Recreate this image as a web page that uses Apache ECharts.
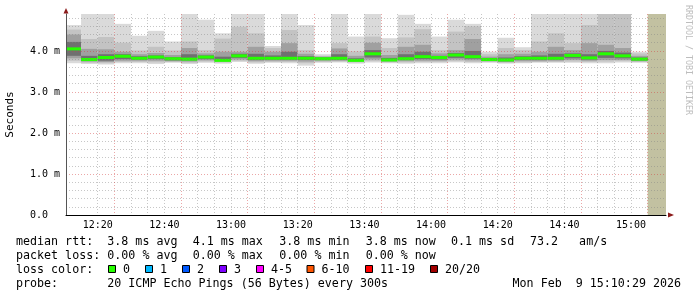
<!DOCTYPE html>
<html><head><meta charset="utf-8">
<script src="https://cdn.jsdelivr.net/npm/echarts@6/dist/echarts.min.js"></script>
<style>html,body{margin:0;padding:0;background:#fff}#c{width:697px;height:297px}</style>
</head><body><div id="c"></div>
<script>
// ---- data, times are end of each 5-minute step ----
const barTimes = ['12:15','12:20','12:25','12:30','12:35','12:40','12:45','12:50','12:55','13:00',
  '13:05','13:10','13:15','13:20','13:25','13:30','13:35','13:40','13:45','13:50',
  '13:55','14:00','14:05','14:10','14:15','14:20','14:25','14:30','14:35','14:40',
  '14:45','14:50','14:55','15:00','15:05'];
// outermost smoke band (min / max ping), ms
const pMin = [3.70,3.68,3.67,3.70,3.70,3.68,3.71,3.68,3.71,3.69,3.73,3.69,3.71,3.70,3.64,3.71,3.72,3.69,3.72,3.70,3.69,3.70,3.70,3.72,3.70,3.71,3.69,3.70,3.71,3.71,3.71,3.70,3.70,3.72,3.71];
const pMax = [4.63,5.00,5.00,4.66,4.37,4.49,4.23,5.00,4.76,4.43,5.00,5.00,4.12,5.00,4.63,3.92,5.00,4.35,5.00,4.31,4.88,4.66,4.35,4.76,4.66,3.98,4.32,4.09,5.00,5.00,5.00,5.00,5.00,5.00,3.98];
// second band
const b2Lo = [3.76,3.71,3.70,3.73,3.73,3.72,3.73,3.71,3.74,3.72,3.76,3.72,3.73,3.73,3.70,3.73,3.74,3.72,3.75,3.72,3.72,3.73,3.73,3.75,3.73,3.73,3.71,3.72,3.73,3.73,3.74,3.73,3.74,3.75,3.73];
const b2Hi = [4.52,4.29,4.34,4.20,4.01,4.10,4.01,4.23,4.02,4.30,4.59,4.43,4.07,4.51,4.02,3.88,4.19,3.99,4.35,4.07,4.33,4.53,4.02,4.47,4.60,3.92,4.07,4.02,4.23,4.43,4.19,4.63,4.95,4.95,3.94];
// third band
const b3Lo = [3.82,3.74,3.73,3.76,3.76,3.76,3.75,3.74,3.77,3.74,3.79,3.75,3.76,3.76,3.74,3.76,3.76,3.74,3.79,3.74,3.75,3.76,3.76,3.79,3.77,3.75,3.73,3.75,3.75,3.76,3.78,3.76,3.78,3.78,3.75];
const b3Hi = [4.40,4.05,4.04,3.98,3.92,3.95,3.90,4.07,3.94,3.98,3.98,4.10,3.98,4.19,3.93,3.86,4.06,3.88,4.20,3.90,4.10,4.15,3.94,4.02,4.29,3.86,3.92,3.93,3.98,4.10,4.02,4.19,4.15,4.07,3.88];
// inner band
const b4Lo = [3.88,3.76,3.76,3.80,3.79,3.80,3.77,3.77,3.80,3.76,3.83,3.78,3.79,3.79,3.78,3.78,3.78,3.76,3.84,3.76,3.78,3.80,3.79,3.83,3.81,3.77,3.75,3.78,3.78,3.79,3.82,3.79,3.83,3.82,3.77];
const b4Hi = [4.22,3.88,3.92,3.92,3.87,3.89,3.85,3.92,3.89,3.86,3.93,3.93,3.89,3.98,3.87,3.84,3.92,3.82,4.02,3.83,3.92,3.98,3.88,3.95,4.00,3.82,3.84,3.87,3.89,3.93,3.94,3.92,4.00,3.96,3.84];
// median rtt
const median = [4.05,3.79,3.84,3.87,3.82,3.85,3.81,3.80,3.85,3.77,3.88,3.82,3.82,3.82,3.82,3.81,3.82,3.77,3.93,3.78,3.81,3.86,3.84,3.90,3.86,3.79,3.78,3.82,3.82,3.82,3.89,3.83,3.93,3.88,3.80];

const xStart = '12:10:29', xEnd = '15:10:29';
const unknownStart = '15:05', unknownEnd = '15:10:29';
const xMajorLabels = ['12:20','12:40','13:00','13:20','13:40','14:00','14:20','14:40','15:00'];
const yTickLabels = ['0.0','1.0 m','2.0 m','3.0 m','4.0 m'];

const medianStats = ['3.8 ms avg','4.1 ms max','3.8 ms min','3.8 ms now','0.1 ms sd','73.2   am/s'];
const lossStats = ['0.00 % avg','0.00 % max','0.00 % min','0.00 % now'];
const lossLabels = ['0','1','2','3','4-5','6-10','11-19','20/20'];
const lossColors = ['#26ff00','#00b8ff','#0059ff','#7e00ff','#ff00ff','#ff5500','#ff0000','#a10000'];
const probeText = '20 ICMP Echo Pings (56 Bytes) every 300s';
const dateText = 'Mon Feb  9 15:10:29 2026';

// ---- helpers ----
const T = s => { const p = s.split(':').map(Number); return p[0]*60 + p[1] + (p[2]||0)/60; };
const fmtT = v => { const h = Math.floor(v/60 + 1e-9), m = Math.round(v - h*60); return h + ':' + (m<10?'0':'') + m; };
const fiveMin = [];
for (let v = T('12:15'); v <= T(xEnd) + 1e-9; v += 5) fiveMin.push(v);

const data = barTimes.map((t,i) => [T(t), pMin[i], pMax[i], b2Lo[i], b2Hi[i], b3Lo[i], b3Hi[i], b4Lo[i], b4Hi[i], median[i]]);
const bandColors = ['#dadada','#c3c3c3','#a0a0a0','#707070'];

function renderItem(params, api) {
  const tEnd = api.value(0);
  const l = api.coord([tEnd - 5, 0])[0], r = api.coord([tEnd, 0])[0];
  const children = [];
  for (let k = 0; k < 4; k++) {
    const yLo = api.coord([tEnd, api.value(1 + 2*k)])[1];
    const yHi = api.coord([tEnd, api.value(2 + 2*k)])[1];
    children.push({type:'rect', shape:{x:l, y:yHi, width:r-l, height:yLo-yHi}, style:{fill:bandColors[k]}});
  }
  const ym = api.coord([tEnd, api.value(9)])[1];
  children.push({type:'rect', shape:{x:l, y:ym-1.5, width:r-l, height:3}, style:{fill:lossColors[0]}});
  return {type:'group', children};
}

const MONO = 'DejaVu Sans Mono';
const FS = 11.66;
const minorC = 'rgba(130,130,130,0.45)', majorC = 'rgba(210,60,60,0.45)';

const graphics = [];
const txt = (s, x, y, extra) => graphics.push(Object.assign({type:'text', x, y, style:{text:s, fontFamily:MONO, fontSize:FS, fill:'#000', verticalAlign:'middle', align:'left'}}, extra||{}));
// legend line 1
txt('median rtt:', 16, 241.5);
const col = [107.3, 192.7, 279.3, 365.7, 451, 530];
medianStats.forEach((s,i) => txt(s, col[i], 241.5));
// line 2
txt('packet loss:', 16, 255.5);
lossStats.forEach((s,i) => txt(s, col[i], 255.5));
// line 3
txt('loss color:', 16, 269.5);
const boxX = [108.5, 145.5, 182.5, 219.5, 256.5, 307, 365.5, 430.5];
lossLabels.forEach((s,i) => {
  graphics.push({type:'rect', shape:{x:boxX[i], y:265.5, width:7, height:7}, style:{fill:lossColors[i], stroke:'#000', lineWidth:1}});
  txt(s, boxX[i] + 14.5, 269.5);
});
// line 4
txt('probe:', 16, 283.5);
txt(probeText, 107.3, 283.5);
graphics.push({type:'text', x:681, y:283.5, style:{text:dateText, fontFamily:MONO, fontSize:FS, fill:'#000', verticalAlign:'middle', align:'right'}});
// watermark
graphics.push({type:'text', x:688.5, y:60, rotation:-Math.PI/2, style:{text:'RRDTOOL / TOBI OETIKER', fontFamily:MONO, fontSize:8.3, fill:'#bdbdbd', align:'center', verticalAlign:'middle'}});
// axis arrows
graphics.push({type:'polygon', shape:{points:[[63.5,13.5],[68.5,13.5],[66,8]]}, style:{fill:'#8c1c1c'}, z:10});
graphics.push({type:'polygon', shape:{points:[[668,212.5],[668,217.5],[674,215]]}, style:{fill:'#8c1c1c'}, z:10});

const chart = echarts.init(document.getElementById('c'), null, {renderer:'canvas'});
chart.setOption({
  animation:false,
  backgroundColor:'#ffffff',
  grid:{left:66, top:14, width:600, height:201, containLabel:false, outerBoundsMode:'none'},
  xAxis:{
    type:'value', min:T(xStart), max:T(xEnd), z:5,
    axisLine:{show:true, onZero:false, lineStyle:{color:'#000', width:1}},
    axisTick:{show:false, customValues:fiveMin},
    axisLabel:{customValues:xMajorLabels.map(T), formatter:fmtT, color:'#000', fontFamily:MONO, fontSize:10, margin:5},
    splitLine:{show:true, showMinLine:false, showMaxLine:false, lineStyle:{color:[minorC, majorC, minorC, minorC], type:[1,2], width:1}}
  },
  yAxis:{
    type:'value', min:0, max:4.9, interval:0.2, z:5,
    axisLine:{show:true, lineStyle:{color:'#555', width:1}},
    axisTick:{show:false},
    axisLabel:{
      formatter: v => { const r = Math.round(v); return Math.abs(v - r) < 1e-6 && r < yTickLabels.length ? yTickLabels[r] : ''; },
      align:'left', margin:36, color:'#000', fontFamily:MONO, fontSize:10
    },
    splitLine:{show:true, showMaxLine:false, lineStyle:{color:[majorC, minorC, minorC, minorC, minorC], type:[1,2], width:1}},
    name:'Seconds', nameLocation:'middle', nameGap:50, nameRotate:90,
    nameTextStyle:{fontFamily:MONO, fontSize:11, color:'#000'}
  },
  series:[{
    type:'custom', renderItem, data, clip:true, z:2,
    markArea:{silent:true, itemStyle:{color:'#c2c1a1', opacity:1}, data:[[{xAxis:T(unknownStart)},{xAxis:T(unknownEnd)}]]}
  }],
  graphic:graphics
});
</script></body></html>
